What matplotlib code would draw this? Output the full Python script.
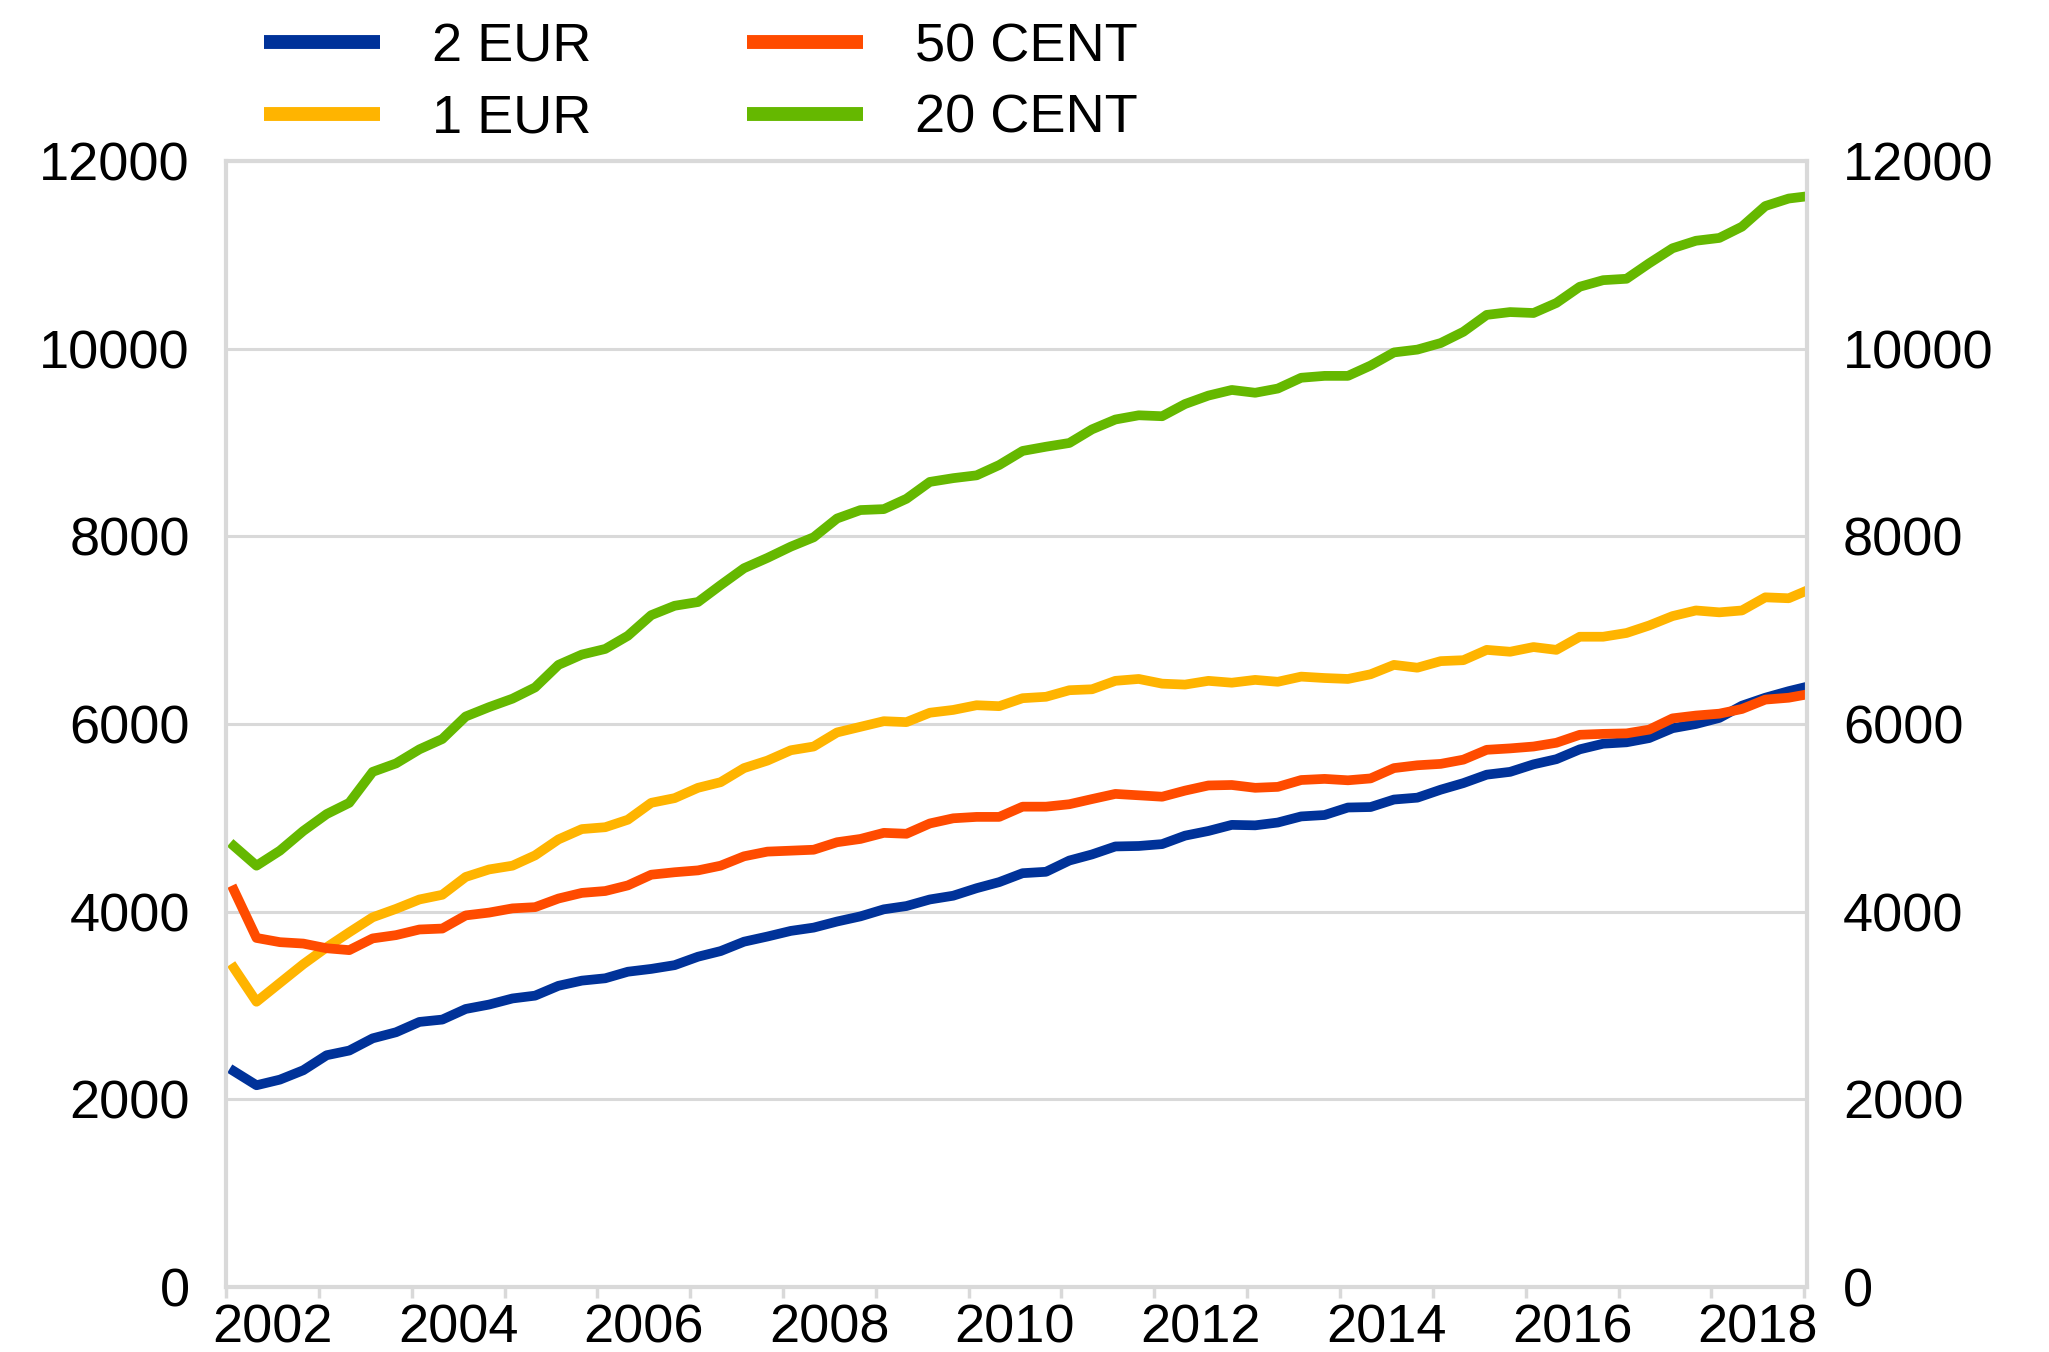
import matplotlib
matplotlib.use("Agg")
import matplotlib.pyplot as plt
import matplotlib.dates as mdates
from matplotlib.ticker import NullFormatter, FixedLocator
import pandas as pd

plt.rcParams['font.family'] = ['Liberation Sans', 'DejaVu Sans']

# quarterly readings (Feb, May, Aug, Nov) plus the last point in Jan 2019
dates = pd.date_range("2002-02-01", "2018-11-01", freq="3MS").append(pd.DatetimeIndex(["2019-01-01"]))

eur2 = [2300, 2150, 2210, 2310, 2470, 2520, 2650, 2715, 2825, 2850, 2963, 3010,
        3075, 3105, 3210, 3265, 3290, 3360, 3390, 3430, 3520, 3580, 3680, 3735,
        3795, 3830, 3895, 3950, 4025, 4060, 4130, 4170, 4250, 4315, 4410, 4425,
        4545, 4610, 4695, 4700, 4720, 4810, 4860, 4925, 4920, 4950, 5015, 5030,
        5110, 5115, 5195, 5215, 5300, 5370, 5460, 5490, 5570, 5625, 5730, 5790,
        5805, 5850, 5955, 6000, 6065, 6195, 6280, 6350, 6390]
eur1 = [3400, 3040, 3240, 3440, 3620, 3780, 3940, 4030, 4130, 4180, 4370, 4450,
        4490, 4600, 4770, 4880, 4900, 4980, 5160, 5210, 5320, 5380, 5530, 5610,
        5720, 5760, 5910, 5970, 6030, 6020, 6120, 6150, 6200, 6190, 6275, 6290,
        6360, 6370, 6460, 6480, 6430, 6420, 6460, 6440, 6470, 6450, 6505, 6490,
        6480, 6530, 6630, 6600, 6670, 6680, 6790, 6770, 6820, 6790, 6930, 6930,
        6970, 7050, 7150, 7210, 7190, 7210, 7350, 7340, 7410]
cent50 = [4230, 3720, 3675, 3660, 3610, 3590, 3715, 3750, 3810, 3820, 3960, 3990,
          4035, 4048, 4140, 4200, 4220, 4280, 4394, 4420, 4440, 4490, 4590, 4640,
          4650, 4660, 4740, 4775, 4840, 4830, 4940, 4995, 5010, 5010, 5119, 5119,
          5145, 5200, 5255, 5240, 5225, 5290, 5345, 5350, 5320, 5330, 5403, 5415,
          5400, 5420, 5530, 5560, 5575, 5620, 5725, 5740, 5760, 5800, 5885, 5895,
          5900, 5940, 6060, 6090, 6110, 6160, 6260, 6280, 6310]
cent20 = [4700, 4490, 4650, 4860, 5040, 5160, 5490, 5580, 5730, 5840, 6080, 6180,
          6270, 6390, 6630, 6740, 6800, 6940, 7160, 7260, 7300, 7480, 7660, 7770,
          7890, 7990, 8190, 8280, 8290, 8400, 8580, 8620, 8650, 8760, 8910, 8955,
          8995, 9140, 9245, 9290, 9280, 9410, 9500, 9560, 9530, 9575, 9690, 9710,
          9710, 9820, 9960, 9990, 10060, 10180, 10360, 10390, 10380, 10487, 10660, 10730,
          10745, 10910, 11070, 11150, 11180, 11300, 11520, 11600, 11620]

series = [("2 EUR", eur2, "#003299"), ("1 EUR", eur1, "#FFB400"),
          ("50 CENT", cent50, "#FF4B00"), ("20 CENT", cent20, "#65B800")]

grey = "#d9d9d9"
fs = 39

fig = plt.figure(figsize=(20.49, 13.52), dpi=100)
ax = fig.add_axes([226 / 2049, 1 - 1287 / 1352, (1807 - 226) / 2049, (1287 - 161) / 1352])

handles = []
for name, vals, col in series:
    h, = ax.plot(dates, vals, color=col, lw=7, label=name, solid_joinstyle="round")
    handles.append(h)

ax.set_ylim(0, 12000)
ax.set_yticks(range(0, 12001, 2000))
ax.set_xlim(pd.Timestamp("2002-01-01"), pd.Timestamp("2019-01-12"))

ax.grid(axis="y", color=grey, lw=2.2)
ax.set_axisbelow(True)
for sp in ax.spines.values():
    sp.set_color(grey)
    sp.set_linewidth(3)

ax.tick_params(axis="y", length=0, labelsize=fs, pad=26, labelleft=True, labelright=True)

ax.xaxis.set_major_locator(mdates.YearLocator(1))
ax.xaxis.set_major_formatter(NullFormatter())
label_pos = [mdates.date2num(pd.Timestamp(f"{y}-07-02")) for y in range(2002, 2019, 2)]
ax.xaxis.set_minor_locator(FixedLocator(label_pos))
ax.xaxis.set_minor_formatter(mdates.DateFormatter("%Y"))
ax.tick_params(axis="x", which="major", length=8, width=2.5, color=grey)
ax.tick_params(axis="x", which="minor", length=0, labelsize=fs, pad=12)

leg = fig.legend(handles=handles, loc="upper left", bbox_to_anchor=(264 / 2049, 1 - 22 / 1352),
                 ncol=2, frameon=False, fontsize=fs, borderpad=0, borderaxespad=0,
                 handlelength=2.15, handletextpad=0.95, columnspacing=2.87, labelspacing=0.4)
for l in leg.get_lines():
    l.set_linewidth(10)
    l.set_solid_capstyle("butt")

fig.savefig("out.png", dpi=100)
